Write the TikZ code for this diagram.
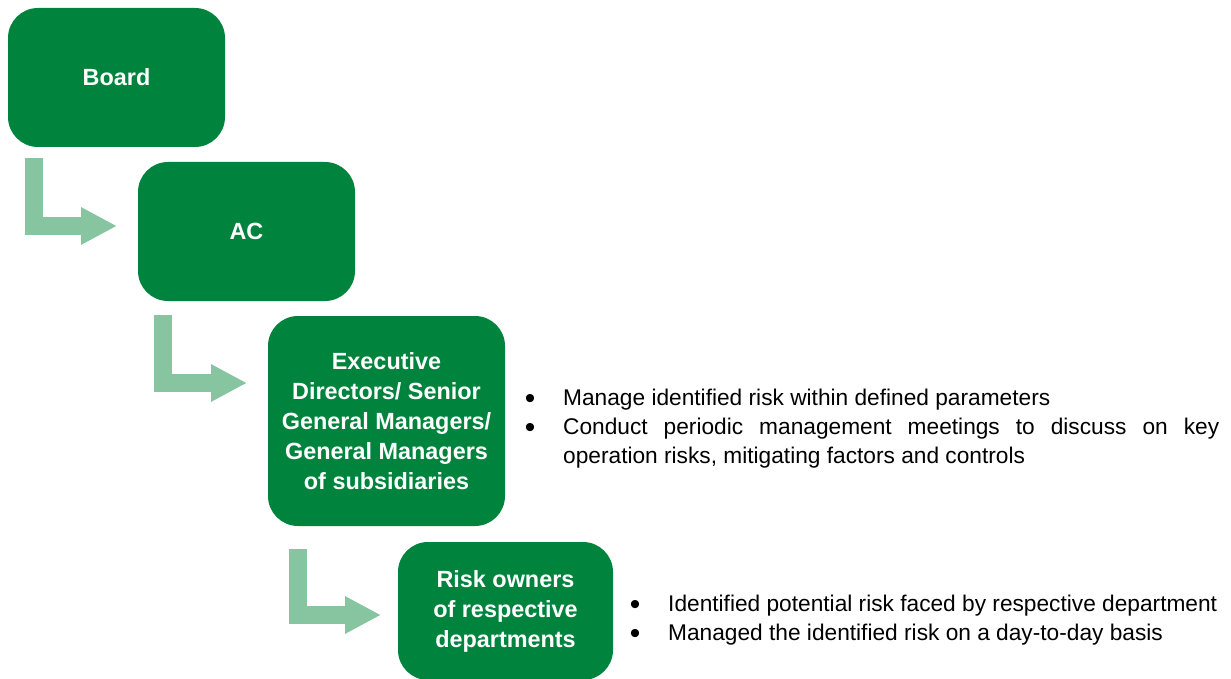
\documentclass[tikz,border=0pt]{standalone}
\usepackage{fontspec}
\setmainfont{Liberation Sans}
\usepackage{tikz}
\usetikzlibrary{positioning,shapes,arrows.meta}
\definecolor{boxgreen}{HTML}{00843D}
\definecolor{arrowgreen}{HTML}{86C5A0}
\newcommand{\itemfont}{\fontsize{22.7}{29}\selectfont}

\begin{document}
\begin{tikzpicture}[x=1pt,y=-1pt,
  box/.style={fill=boxgreen,rounded corners=30pt,text=white,align=center,inner sep=0pt,
    font=\fontsize{23.4}{30}\selectfont\bfseries},
  flow/.style={draw=arrowgreen,line width=18pt,-{Triangle[length=36pt,width=35pt]}},
  item/.style={anchor=base west,text width=656pt,align=justify,inner sep=0pt,font=\itemfont},
  bul/.style={anchor=base,inner sep=0pt,font=\fontsize{30}{29}\selectfont}]
\useasboundingbox (0,0) rectangle (1231,679);

\node[box,minimum width=217pt,minimum height=139pt] (board) at (116.5,77.5) {Board};
\node[box,minimum width=217pt,minimum height=139pt] (ac) at (246.5,231.5) {AC};
\node[box,minimum width=237pt,minimum height=210pt] (exec) at (386.5,421)
  {Executive\\Directors/ Senior\\General Managers/\\General Managers\\of subsidiaries};
\node[box,minimum width=215pt,minimum height=138pt] (risk) at (505.5,611)
  {Risk owners\\of respective\\departments};

\coordinate (acin) at (117,226);
\coordinate (execin) at (247,383);
\coordinate (riskin) at (381,615);
\draw[flow] ([xshift=26pt,yshift=-11pt]board.south west) |- (acin);
\draw[flow] ([xshift=25.5pt,yshift=-14pt]ac.south west) |- (execin);
\draw[flow] ([xshift=30pt,yshift=-23pt]exec.south west) |- (riskin);

\node[item] (ex1) at (563,405) {Manage identified risk within defined parameters};
\node[item] (ex2) at (563,434) {Conduct periodic management meetings to discuss on key\linebreak
  operation risks, mitigating factors and controls};
\node[item] (rk1) at (668,611) {Identified potential risk faced by respective department};
\node[item] (rk2) at (668,640) {Managed the identified risk on a day-to-day basis};
\foreach \n in {ex1,ex2,rk1,rk2}
  \node[bul] at ([xshift=-33pt,yshift=-3pt]\n.base west) {\textbullet};
\end{tikzpicture}
\end{document}
